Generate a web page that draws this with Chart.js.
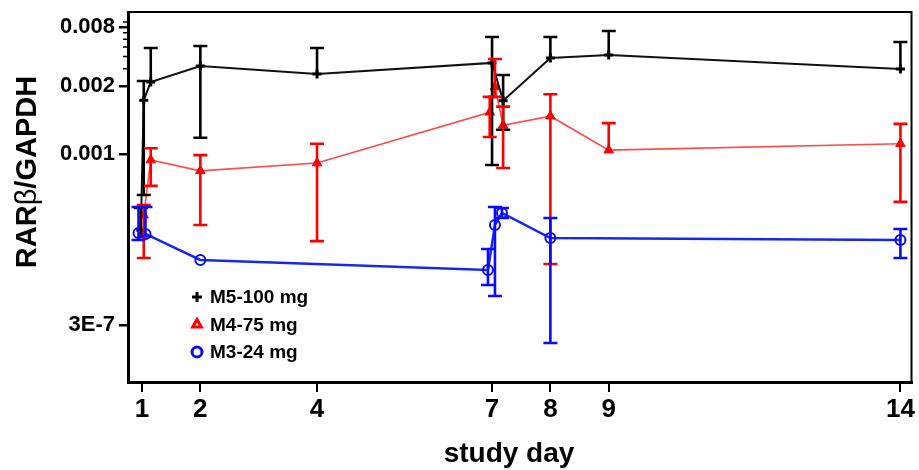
<!DOCTYPE html>
<html>
<head>
<meta charset="utf-8">
<script src="https://cdn.jsdelivr.net/npm/chart.js@4.4.1/dist/chart.umd.min.js"></script>
<style>
  html, body { margin: 0; padding: 0; background: #fff; }
</style>
</head>
<body>
<canvas id="chart" width="919" height="470"></canvas>
<script>
// ---- values ----
const xTickDays = [1, 2, 4, 7, 8, 9, 14];
const yTickValues = [0.008, 0.002, 0.001, 3e-7];
const yTickLabels = ["0.008", "0.002", "0.001", "3E-7"];
const yMinorTicks = [0.003, 0.004, 0.005, 0.006, 0.007, 0.009];

// M5-100 mg (black)
const m5Days  = [0.98, 1.03, 1.15, 2, 4, 7, 7.19, 8, 9, 14];
const m5Ratio = [2.7e-5, 1.73e-3, 2.2e-3, 3.2e-3, 2.65e-3, 3.44e-3, 1.72e-3, 3.86e-3, 4.14e-3, 2.98e-3];
const m5Upper = [7.7e-5, 2.25e-3, 4.89e-3, 5.12e-3, 4.89e-3, 6.32e-3, 2.59e-3, 6.32e-3, 7.28e-3, 5.62e-3];
const m5Lower = [2.7e-5, 1.43e-4, 2.2e-3, 1.18e-3, 2.65e-3, 5.93e-4, 1.28e-3, 3.86e-3, 4.14e-3, 2.98e-3];

// M4-75 mg (red)
const m4Days  = [1.03, 1.15, 2, 4, 6.96, 7.05, 7.19, 8, 9, 14];
const m4Ratio = [5.5e-5, 7.5e-4, 4.5e-4, 6.5e-4, 1.53e-3, 1.98e-3, 1.34e-3, 1.47e-3, 1.04e-3, 1.11e-3];
const m4Upper = [8.9e-5, 1.06e-3, 9.5e-4, 1.11e-3, 1.79e-3, 3.77e-3, 1.62e-3, 1.84e-3, 1.37e-3, 1.36e-3];
const m4Lower = [7.2e-6, 2.2e-4, 3.45e-5, 1.6e-5, 1.19e-3, 1.79e-3, 5.15e-4, 5.4e-6, 1.04e-3, 1.03e-4];

// M3-24 mg (blue)
const m3Days  = [0.94, 1.06, 2, 6.93, 7.05, 7.17, 8, 14];
const m3Ratio = [2.36e-5, 2.25e-5, 6.55e-6, 4.07e-6, 3.45e-5, 6.09e-5, 1.86e-5, 1.69e-5];
const m3Upper = [8.1e-5, 8.1e-5, 6.55e-6, 1.1e-5, 8.1e-5, 7.7e-5, 4.8e-5, 2.85e-5];
const m3Lower = [1.69e-5, 2.0e-5, 6.55e-6, 2.0e-6, 1.19e-6, 4.8e-5, 1.28e-7, 7.2e-6];

// ---- broken log y axis: each tick sits at its own level ----
const yBreakLevels = [355, 296, 228, 57];
const yLevelMax = 370;
const yBreakLogs = yTickValues.map(v => Math.log10(v));

function toLevel(v) {
  const lv = Math.log10(v);
  let i = 0;
  while (i < yBreakLogs.length - 2 && lv < yBreakLogs[i + 1]) i++;
  const t = (lv - yBreakLogs[i]) / (yBreakLogs[i + 1] - yBreakLogs[i]);
  return yBreakLevels[i] + t * (yBreakLevels[i + 1] - yBreakLevels[i]);
}

function fromLevel(l) {
  let i = 0;
  while (i < yBreakLevels.length - 2 && l < yBreakLevels[i + 1]) i++;
  const t = (l - yBreakLevels[i]) / (yBreakLevels[i + 1] - yBreakLevels[i]);
  return Math.pow(10, yBreakLogs[i] + t * (yBreakLogs[i + 1] - yBreakLogs[i]));
}

const LinearScale = Chart.registry.getScale("linear");
class BrokenLogScale extends LinearScale {
  buildTicks() {
    return yTickValues.map(v => ({ value: v }));
  }
  getPixelForValue(v) {
    return this.getPixelForDecimal(toLevel(v) / yLevelMax);
  }
  getValueForPixel(p) {
    return fromLevel(this.getDecimalForPixel(p) * yLevelMax);
  }
}
BrokenLogScale.id = "brokenlog";
BrokenLogScale.defaults = {};
Chart.register(BrokenLogScale);

const FONT = "'Liberation Sans', Arial, sans-serif";

function series(days, vals) {
  return days.map((d, i) => ({ x: d, y: vals[i] }));
}

// error bars with caps
const errorBarPlugin = {
  id: "errorBars",
  afterDatasetsDraw(chart) {
    const ctx = chart.ctx;
    const xs = chart.scales.x, ys = chart.scales.y;
    const area = chart.chartArea;
    ctx.save();
    ctx.beginPath();
    ctx.rect(area.left, area.top, area.right - area.left, area.bottom - area.top);
    ctx.clip();
    chart.data.datasets.forEach(ds => {
      ctx.strokeStyle = ds.barColor;
      ctx.lineWidth = 2.6;
      ds.data.forEach((pt, i) => {
        const px = xs.getPixelForValue(pt.x);
        const py = ys.getPixelForValue(pt.y);
        const top = ys.getPixelForValue(ds.upper[i]);
        const bot = ys.getPixelForValue(ds.lower[i]);
        ctx.beginPath();
        ctx.moveTo(px, top);
        ctx.lineTo(px, bot);
        if (top < py - 1) { ctx.moveTo(px - 7, top); ctx.lineTo(px + 7, top); }
        if (bot > py + 1) { ctx.moveTo(px - 7, bot); ctx.lineTo(px + 7, bot); }
        ctx.stroke();
      });
    });
    ctx.restore();
  }
};

// frame, minor ticks, axis titles and in-plot legend
const decorPlugin = {
  id: "decor",
  afterDraw(chart) {
    const ctx = chart.ctx;
    const a = chart.chartArea;
    const ys = chart.scales.y;
    ctx.save();
    ctx.strokeStyle = "#000";
    ctx.lineWidth = 2;
    ctx.beginPath();
    ctx.moveTo(a.left, a.top);
    ctx.lineTo(a.right, a.top);
    ctx.lineTo(a.right, a.bottom);
    ctx.stroke();

    ctx.lineWidth = 1.5;
    ctx.beginPath();
    yMinorTicks.forEach(v => {
      const py = ys.getPixelForValue(v);
      ctx.moveTo(a.left - 5, py);
      ctx.lineTo(a.left, py);
    });
    ctx.stroke();

    // y title: bold letters, regular-weight beta
    ctx.fillStyle = "#000";
    ctx.textBaseline = "middle";
    ctx.textAlign = "left";
    const parts = [
      { t: "RAR", f: "bold 29px " + FONT },
      { t: "β", f: "29px " + FONT },
      { t: "/GAPDH", f: "bold 29px " + FONT }
    ];
    let total = 0;
    parts.forEach(p => { ctx.font = p.f; p.w = ctx.measureText(p.t).width; total += p.w; });
    ctx.save();
    ctx.translate(28, 172);
    ctx.rotate(-Math.PI / 2);
    let cx = -total / 2;
    parts.forEach(p => { ctx.font = p.f; ctx.fillText(p.t, cx, 0); cx += p.w; });
    ctx.restore();

    ctx.font = "bold 28px " + FONT;
    ctx.textAlign = "center";
    ctx.textBaseline = "alphabetic";
    ctx.fillText("study day", 509, 462);

    // legend
    ctx.font = "bold 19px " + FONT;
    ctx.textAlign = "left";
    ctx.textBaseline = "middle";
    const lx = a.left + 69;
    chart.data.datasets.forEach((ds, i) => {
      const ly = a.bottom - 85 + i * 27.5;
      ctx.strokeStyle = ds.barColor;
      ctx.fillStyle = ds.legendFill;
      ctx.lineWidth = 3;
      Chart.helpers.drawPoint(ctx, { pointStyle: ds.pointStyle, radius: 5, borderWidth: 3 }, lx, ly);
      ctx.fillStyle = "#000";
      ctx.fillText(ds.label, lx + 13, ly + 1);
    });
    ctx.restore();
  }
};

new Chart(document.getElementById("chart"), {
  type: "line",
  data: {
    datasets: [
      {
        label: "M5-100 mg",
        data: series(m5Days, m5Ratio),
        upper: m5Upper, lower: m5Lower,
        barColor: "#000", legendFill: "#000",
        borderColor: "#111", borderWidth: 2,
        pointStyle: "cross", pointRadius: 4.5, pointBorderWidth: 3,
        pointBorderColor: "#000", pointBackgroundColor: "#000"
      },
      {
        label: "M4-75 mg",
        data: series(m4Days, m4Ratio),
        upper: m4Upper, lower: m4Lower,
        barColor: "#ff0000", legendFill: "rgba(0,0,0,0)",
        borderColor: "#ff4a4a", borderWidth: 1.6,
        pointStyle: "triangle", pointRadius: 5.5, pointBorderWidth: 1,
        pointBorderColor: "#ff0000", pointBackgroundColor: "#ff0000"
      },
      {
        label: "M3-24 mg",
        data: series(m3Days, m3Ratio),
        upper: m3Upper, lower: m3Lower,
        barColor: "#0a0aff", legendFill: "rgba(0,0,0,0)",
        borderColor: "#1628f0", borderWidth: 2.5,
        pointStyle: "circle", pointRadius: 5, pointBorderWidth: 2,
        pointBorderColor: "#0a0aff", pointBackgroundColor: "rgba(0,0,0,0)"
      }
    ]
  },
  options: {
    responsive: false,
    animation: false,
    layout: { padding: { top: 12, right: 7, left: 0, bottom: 0 } },
    plugins: { legend: { display: false }, tooltip: { enabled: false } },
    elements: { line: { tension: 0 } },
    scales: {
      x: {
        type: "linear",
        min: 0.76, max: 14.19,
        afterFit: s => { s.height = 88; s.paddingLeft = 0; s.paddingRight = 0; },
        afterBuildTicks: s => { s.ticks = xTickDays.map(v => ({ value: v })); },
        border: { display: true, color: "#000", width: 3 },
        grid: { display: true, drawOnChartArea: false, color: "#000", lineWidth: 2, tickLength: 10 },
        ticks: {
          color: "#000", padding: 2, maxRotation: 0, autoSkip: false,
          font: { family: FONT, size: 26, weight: "bold" }
        }
      },
      y: {
        type: "brokenlog",
        afterFit: s => { s.width = 128; s.paddingTop = 0; s.paddingBottom = 0; },
        border: { display: true, color: "#000", width: 3 },
        grid: { display: true, drawOnChartArea: false, color: "#000", lineWidth: 2.5, tickLength: 9 },
        ticks: {
          color: "#000", padding: 4, autoSkip: false,
          font: { family: FONT, size: 22, weight: "bold" },
          callback: v => yTickLabels[yTickValues.indexOf(v)]
        }
      }
    }
  },
  plugins: [errorBarPlugin, decorPlugin]
});
</script>
</body>
</html>
